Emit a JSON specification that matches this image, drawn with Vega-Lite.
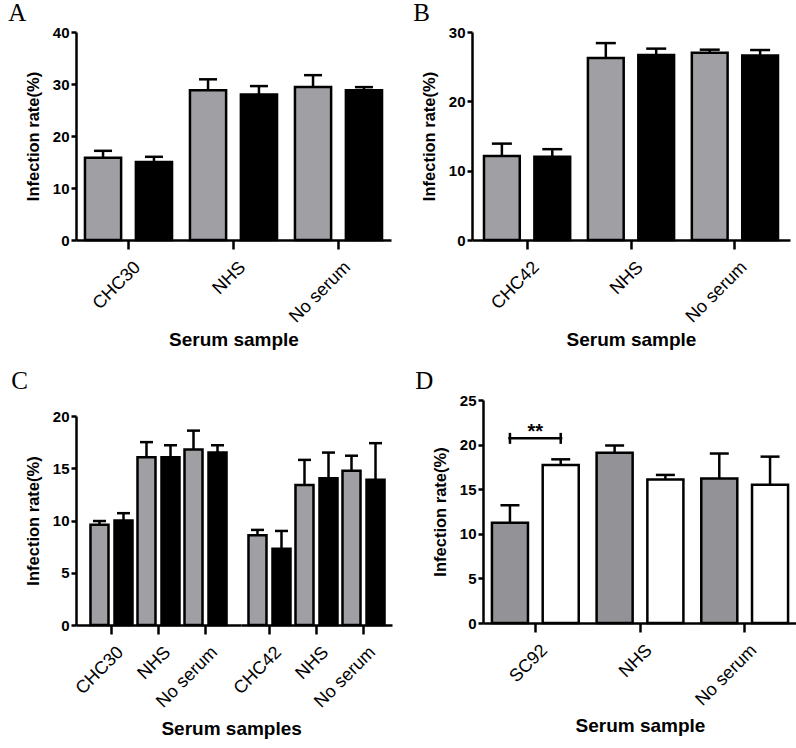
{
  "$schema": "https://vega.github.io/schema/vega-lite/v6.json",
  "padding": {"left": 8, "top": 1, "right": 0, "bottom": 0},
  "background": "white",
  "resolve": {"scale": {"fill": "independent", "xOffset": "independent"}},
  "config": {
    "view": {"stroke": null},
    "font": "Liberation Sans",
    "axis": {"domainColor": "black", "domainWidth": 2.5, "tickColor": "black", "tickWidth": 2.5, "labelColor": "black", "titleColor": "black", "labelFont": "Liberation Sans", "titleFont": "Liberation Sans", "grid": false, "titleFontWeight": "bold"},
    "axisY": {"labelFontWeight": "bold", "labelFontSize": 15, "tickSize": 5, "labelPadding": 2, "titleFontSize": 16.5, "titlePadding": 11},
    "axisX": {"labelAngle": -45, "labelFontSize": 18, "labelFontWeight": "normal", "tickSize": 9, "labelPadding": 9, "labelOffset": 3, "titleFontSize": 19, "titlePadding": 5},
    "title": {"anchor": "start", "frame": "bounds", "font": "Liberation Serif", "fontSize": 25, "fontWeight": "normal", "color": "black", "offset": -1}
  },
  "vconcat": [
    {
      "resolve": {"scale": {"fill": "independent", "xOffset": "independent"}},
      "hconcat": [
        {
          "title": {"text": "A", "dx": -17},
          "width": 315, "height": 208,
          "data": {"values": [
            {"sample": "CHC30", "group": "Gray", "mean": 15.8, "upper": 17.15},
            {"sample": "CHC30", "group": "Black", "mean": 15.0, "upper": 16.0},
            {"sample": "NHS", "group": "Gray", "mean": 28.8, "upper": 30.9},
            {"sample": "NHS", "group": "Black", "mean": 28.0, "upper": 29.6},
            {"sample": "No serum", "group": "Gray", "mean": 29.4, "upper": 31.7},
            {"sample": "No serum", "group": "Black", "mean": 28.8, "upper": 29.4}
          ]},
          "encoding": {
            "x": {"field": "sample", "type": "nominal", "sort": null, "scale": {"paddingInner": 0, "paddingOuter": 0}, "axis": {"title": "Serum sample"}},
            "xOffset": {"field": "group", "type": "nominal", "sort": null, "scale": {"domain": ["Gray", "Black"], "paddingInner": 0.29, "paddingOuter": 0.176}}
          },
          "layer": [
            {"mark": {"type": "bar", "stroke": "black", "strokeWidth": 2.5},
             "encoding": {
               "y": {"field": "mean", "type": "quantitative", "scale": {"domain": [0, 40], "nice": false}, "axis": {"values": [0, 10, 20, 30, 40], "title": "Infection rate(%)"}},
               "fill": {"field": "group", "type": "nominal", "scale": {"domain": ["Gray", "Black"], "range": ["#a0a0a4", "#000000"]}, "legend": null}}},
            {"mark": {"type": "rule", "strokeWidth": 2.5, "color": "black"},
             "encoding": {"y": {"field": "mean", "type": "quantitative"}, "y2": {"field": "upper"}}},
            {"mark": {"type": "tick", "orient": "horizontal", "size": 18, "thickness": 2.5, "color": "black", "opacity": 1},
             "encoding": {"y": {"field": "upper", "type": "quantitative"}}}
          ]
        },
        {
          "title": {"text": "B", "dx": -8},
          "width": 318, "height": 208,
          "data": {"values": [
            {"sample": "CHC42", "group": "Gray", "mean": 12.1, "upper": 13.9},
            {"sample": "CHC42", "group": "Black", "mean": 12.0, "upper": 13.1},
            {"sample": "NHS", "group": "Gray", "mean": 26.25, "upper": 28.4},
            {"sample": "NHS", "group": "Black", "mean": 26.7, "upper": 27.6},
            {"sample": "No serum", "group": "Gray", "mean": 27.0, "upper": 27.45},
            {"sample": "No serum", "group": "Black", "mean": 26.6, "upper": 27.4}
          ]},
          "encoding": {
            "x": {"field": "sample", "type": "nominal", "sort": null, "scale": {"paddingInner": 0, "paddingOuter": 0.03}, "axis": {"title": "Serum sample"}},
            "xOffset": {"field": "group", "type": "nominal", "sort": null, "scale": {"domain": ["Gray", "Black"], "paddingInner": 0.29, "paddingOuter": 0.176}}
          },
          "layer": [
            {"mark": {"type": "bar", "stroke": "black", "strokeWidth": 2.5},
             "encoding": {
               "y": {"field": "mean", "type": "quantitative", "scale": {"domain": [0, 30], "nice": false}, "axis": {"values": [0, 10, 20, 30], "title": "Infection rate(%)"}},
               "fill": {"field": "group", "type": "nominal", "scale": {"domain": ["Gray", "Black"], "range": ["#a0a0a4", "#000000"]}, "legend": null}}},
            {"mark": {"type": "rule", "strokeWidth": 2.5, "color": "black"},
             "encoding": {"y": {"field": "mean", "type": "quantitative"}, "y2": {"field": "upper"}}},
            {"mark": {"type": "tick", "orient": "horizontal", "size": 20, "thickness": 2.5, "color": "black", "opacity": 1},
             "encoding": {"y": {"field": "upper", "type": "quantitative"}}}
          ]
        }
      ],
      "spacing": 22
    },
    {
      "resolve": {"scale": {"fill": "independent", "xOffset": "independent"}},
      "hconcat": [
        {
          "title": {"text": "C", "dx": -14, "offset": 6},
          "spacing": 8,
          "vconcat": [
            {"width": 10, "height": 1, "data": {"values": []}, "mark": "rule", "encoding": {}},
            {
              "title": {"text": "Serum samples", "orient": "bottom", "anchor": "middle", "frame": "bounds", "font": "Liberation Sans", "fontSize": 19, "fontWeight": "bold", "dx": 23, "offset": 9},
              "bounds": "flush",
              "spacing": 0,
              "hconcat": [
                {
                  "width": 165, "height": 209,
                  "data": {"values": [
                    {"sample": "CHC30", "group": "Gray", "mean": 9.6, "upper": 9.95},
                    {"sample": "CHC30", "group": "Black", "mean": 10.0, "upper": 10.7},
                    {"sample": "NHS", "group": "Gray", "mean": 16.05, "upper": 17.5},
                    {"sample": "NHS", "group": "Black", "mean": 16.05, "upper": 17.2},
                    {"sample": "No serum", "group": "Gray", "mean": 16.8, "upper": 18.6},
                    {"sample": "No serum", "group": "Black", "mean": 16.5, "upper": 17.2}
                  ]},
                  "encoding": {
                    "x": {"field": "sample", "type": "nominal", "sort": null, "scale": {"paddingInner": 0, "paddingOuter": 0.255}, "axis": {"title": null}},
                    "xOffset": {"field": "group", "type": "nominal", "sort": null, "scale": {"domain": ["Gray", "Black"], "paddingInner": 0.25, "paddingOuter": 0.104}}
                  },
                  "layer": [
                    {"mark": {"type": "bar", "stroke": "black", "strokeWidth": 2.5},
                     "encoding": {
                       "y": {"field": "mean", "type": "quantitative", "scale": {"domain": [0, 20], "nice": false}, "axis": {"values": [0, 5, 10, 15, 20], "title": "Infection rate(%)"}},
                       "fill": {"field": "group", "type": "nominal", "scale": {"domain": ["Gray", "Black"], "range": ["#a0a0a4", "#000000"]}, "legend": null}}},
                    {"mark": {"type": "rule", "strokeWidth": 2.5, "color": "black"},
                     "encoding": {"y": {"field": "mean", "type": "quantitative"}, "y2": {"field": "upper"}}},
                    {"mark": {"type": "tick", "orient": "horizontal", "size": 13, "thickness": 2.5, "color": "black", "opacity": 1},
                     "encoding": {"y": {"field": "upper", "type": "quantitative"}}}
                  ]
                },
                {
                  "width": 151, "height": 209,
                  "data": {"values": [
                    {"sample": "CHC42", "group": "Gray", "mean": 8.6, "upper": 9.1},
                    {"sample": "CHC42", "group": "Black", "mean": 7.3, "upper": 9.0},
                    {"sample": "NHS", "group": "Gray", "mean": 13.4, "upper": 15.8},
                    {"sample": "NHS", "group": "Black", "mean": 14.05, "upper": 16.5},
                    {"sample": "No serum", "group": "Gray", "mean": 14.75, "upper": 16.2},
                    {"sample": "No serum", "group": "Black", "mean": 13.9, "upper": 17.4}
                  ]},
                  "encoding": {
                    "x": {"field": "sample", "type": "nominal", "sort": null, "scale": {"paddingInner": 0, "paddingOuter": 0.106}, "axis": {"title": null}},
                    "xOffset": {"field": "group", "type": "nominal", "sort": null, "scale": {"domain": ["Gray", "Black"], "paddingInner": 0.25, "paddingOuter": 0.104}}
                  },
                  "layer": [
                    {"mark": {"type": "bar", "stroke": "black", "strokeWidth": 2.5},
                     "encoding": {
                       "y": {"field": "mean", "type": "quantitative", "scale": {"domain": [0, 20], "nice": false}, "axis": null},
                       "fill": {"field": "group", "type": "nominal", "scale": {"domain": ["Gray", "Black"], "range": ["#a0a0a4", "#000000"]}, "legend": null}}},
                    {"mark": {"type": "rule", "strokeWidth": 2.5, "color": "black"},
                     "encoding": {"y": {"field": "mean", "type": "quantitative"}, "y2": {"field": "upper"}}},
                    {"mark": {"type": "tick", "orient": "horizontal", "size": 13, "thickness": 2.5, "color": "black", "opacity": 1},
                     "encoding": {"y": {"field": "upper", "type": "quantitative"}}}
                  ]
                }
              ]
            }
          ]
        },
        {
          "title": {"text": "D", "dx": -17, "offset": -1},
          "width": 314, "height": 223,
          "layer": [
            {
              "data": {"values": [
                {"sample": "SC92", "group": "Gray", "mean": 11.25, "upper": 13.2},
                {"sample": "SC92", "group": "White", "mean": 17.7, "upper": 18.35},
                {"sample": "NHS", "group": "Gray", "mean": 19.1, "upper": 19.9},
                {"sample": "NHS", "group": "White", "mean": 16.1, "upper": 16.6},
                {"sample": "No serum", "group": "Gray", "mean": 16.2, "upper": 19.0},
                {"sample": "No serum", "group": "White", "mean": 15.5, "upper": 18.65}
              ]},
              "encoding": {
                "x": {"field": "sample", "type": "nominal", "scale": {"domain": ["SC92", "NHS", "No serum"], "paddingInner": 0, "paddingOuter": 0}, "axis": {"title": "Serum sample", "titlePadding": 8}},
                "xOffset": {"field": "group", "type": "nominal", "scale": {"domain": ["Gray", "White"], "paddingInner": 0.29, "paddingOuter": 0.176}}
              },
              "layer": [
                {"mark": {"type": "bar", "stroke": "black", "strokeWidth": 2.5},
                 "encoding": {
                   "y": {"field": "mean", "type": "quantitative", "scale": {"domain": [0, 25], "nice": false}, "axis": {"values": [0, 5, 10, 15, 20, 25], "title": "Infection rate(%)"}},
                   "fill": {"field": "group", "type": "nominal", "scale": {"domain": ["Gray", "White"], "range": ["#939397", "#ffffff"]}, "legend": null}}},
                {"mark": {"type": "rule", "strokeWidth": 2.5, "color": "black"},
                 "encoding": {"y": {"field": "mean", "type": "quantitative"}, "y2": {"field": "upper"}}},
                {"mark": {"type": "tick", "orient": "horizontal", "size": 19, "thickness": 2.5, "color": "black", "opacity": 1},
                 "encoding": {"y": {"field": "upper", "type": "quantitative"}}}
              ]
            },
            {
              "data": {"values": [{"sample": "SC92", "level": 20.7, "label": "**", "labelLevel": 21.6}]},
              "layer": [
                {"mark": {"type": "tick", "orient": "horizontal", "size": 54, "thickness": 2.5, "color": "black", "opacity": 1},
                 "encoding": {"x": {"field": "sample", "type": "nominal"}, "y": {"field": "level", "type": "quantitative"}}},
                {"mark": {"type": "text", "fontSize": 20, "fontWeight": "bold", "baseline": "alphabetic", "color": "black", "dy": 8},
                 "encoding": {"x": {"field": "sample", "type": "nominal"}, "y": {"field": "labelLevel", "type": "quantitative"}, "text": {"field": "label"}}}
              ]
            },
            {
              "data": {"values": [{"sample": "SC92", "group": "Gray", "level": 20.7}, {"sample": "SC92", "group": "White", "level": 20.7}]},
              "mark": {"type": "tick", "orient": "vertical", "size": 11, "thickness": 2.5, "color": "black", "opacity": 1},
              "encoding": {"x": {"field": "sample", "type": "nominal"}, "xOffset": {"field": "group", "type": "nominal"}, "y": {"field": "level", "type": "quantitative"}}
            }
          ]
        }
      ],
      "spacing": 23
    }
  ],
  "spacing": 19
}
